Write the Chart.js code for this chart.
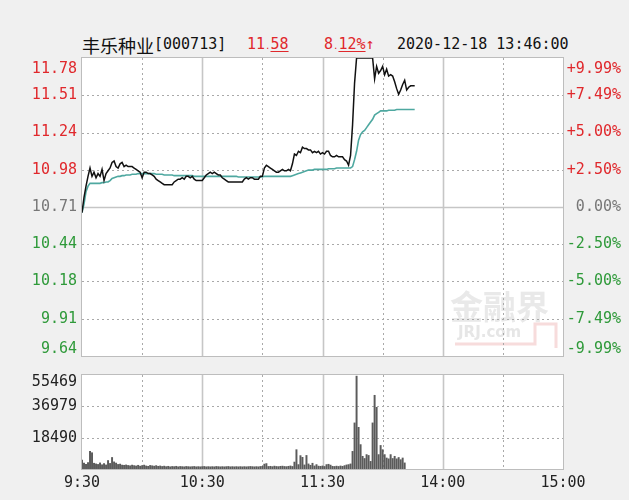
<!DOCTYPE html>
<html>
<head>
<meta charset="utf-8">
<script src="https://cdn.jsdelivr.net/npm/chart.js@4/dist/chart.umd.min.js"></script>
<style>
  body { margin: 0; width: 629px; height: 500px; background: #f0f0f0; position: relative; overflow: hidden; }
  canvas { position: absolute; left: 0; }
  #priceCv { top: 0; }
  #volCv { top: 360px; }
  .hd { position: absolute; top: 35px; font: 15px/18px "DejaVu Sans Mono", monospace; color: #111; white-space: nowrap; }
  .cn { font: 18px/18px "Noto Sans CJK SC", sans-serif; top: 36px; }
  .up { color: #e0282c; }
  .up u { text-underline-offset: 2px; }
  .dot { font-size: 9px; }
</style>
</head>
<body>
<div class="hd cn" style="left:82px">丰乐种业</div>
<div class="hd" style="left:154px">[000713]</div>
<div class="hd up" style="left:247px">11<span class="dot">.</span><u>58</u></div>
<div class="hd up" style="left:324px">8<span class="dot">.</span><u>12%</u>↑</div>
<div class="hd" style="left:397px">2020-12-18 13:46:00</div>
<canvas id="priceCv" width="629" height="362"></canvas>
<canvas id="volCv" width="629" height="140"></canvas>
<script>
// 分时数据 9:30 起每分钟一个点 (0..240 分钟, 11:30 与 13:00 同一位置)
const precoAbertura = 10.71;
const precos = [
  10.67,10.78,10.86,10.93,10.99,10.93,10.96,10.92,10.95,10.93,
  10.98,10.90,10.95,10.97,10.99,11.03,11.04,11.00,10.99,11.02,
  11.03,11.00,11.01,11.00,11.00,11.00,10.99,10.98,10.97,10.96,
  10.92,10.96,10.96,10.95,10.95,10.94,10.93,10.91,10.90,10.89,
  10.88,10.87,10.87,10.87,10.87,10.87,10.89,10.90,10.91,10.91,
  10.92,10.91,10.93,10.93,10.92,10.93,10.91,10.90,10.90,10.90,
  10.90,10.92,10.94,10.95,10.96,10.95,10.96,10.95,10.94,10.94,
  10.92,10.91,10.90,10.89,10.89,10.89,10.89,10.89,10.89,10.89,
  10.89,10.91,10.92,10.91,10.92,10.92,10.91,10.91,10.91,10.93,
  10.93,10.99,11.01,11.00,10.99,10.98,10.97,10.96,10.96,10.97,
  10.98,10.97,10.97,10.98,10.97,11.02,11.09,11.08,11.11,11.10,
  11.14,11.13,11.13,11.12,11.12,11.10,11.11,11.10,11.11,11.09,
  11.10,11.09,11.11,11.11,11.08,11.07,11.07,11.08,11.07,11.07,
  11.07,11.05,11.04,11.01,11.08,11.30,11.60,11.78,11.78,11.78,
  11.78,11.78,11.78,11.78,11.78,11.78,11.63,11.72,11.67,11.69,
  11.72,11.66,11.70,11.65,11.66,11.65,11.61,11.56,11.52,11.55,
  11.59,11.62,11.55,11.57,11.58,11.58,11.58
];
const medias = [
  10.67,10.73,10.82,10.86,10.88,10.88,10.88,10.88,10.88,10.88,
  10.885,10.885,10.89,10.89,10.90,10.915,10.92,10.925,10.93,10.93,
  10.935,10.935,10.94,10.94,10.94,10.945,10.945,10.945,10.95,10.95,
  10.95,10.95,10.95,10.95,10.95,10.95,10.95,10.945,10.945,10.945,
  10.945,10.94,10.94,10.94,10.94,10.94,10.935,10.935,10.935,10.935,
  10.935,10.935,10.935,10.935,10.935,10.935,10.93,10.93,10.93,10.93,
  10.93,10.93,10.93,10.93,10.93,10.93,10.93,10.93,10.93,10.93,
  10.93,10.93,10.93,10.93,10.93,10.93,10.93,10.93,10.925,10.925,
  10.925,10.925,10.925,10.925,10.925,10.925,10.925,10.925,10.925,10.925,
  10.925,10.93,10.93,10.93,10.93,10.93,10.93,10.93,10.93,10.93,
  10.93,10.93,10.93,10.93,10.93,10.935,10.94,10.945,10.95,10.955,
  10.96,10.965,10.97,10.975,10.975,10.975,10.98,10.98,10.98,10.98,
  10.98,10.98,10.98,10.985,10.985,10.985,10.985,10.99,10.99,10.99,
  10.99,10.99,10.99,10.99,10.99,11.00,11.05,11.11,11.19,11.23,
  11.25,11.26,11.28,11.30,11.32,11.34,11.37,11.38,11.39,11.40,
  11.40,11.40,11.40,11.405,11.405,11.405,11.405,11.41,11.41,11.41,
  11.41,11.41,11.41,11.41,11.41,11.41,11.41
];
const volumes = [
  5300,3500,2800,3800,10400,9600,3400,3000,2700,3600,
  2500,3200,2400,5000,3300,6800,4200,3500,2700,2900,
  2300,2200,2400,2100,1900,2300,2000,1800,2200,1700,
  2000,2300,1800,1600,2100,1900,1700,2000,1600,1800,
  1500,1700,1400,1600,1300,1500,1400,1600,1300,1500,
  1400,1300,1500,1400,1300,1400,1500,1300,1400,1300,
  1400,1500,1300,1400,1300,1400,1300,1500,1400,1300,
  1400,1300,1400,1500,1300,1400,1300,1400,1300,1400,
  1300,1400,1300,1400,1500,1400,1300,1400,1300,1500,
  1600,2900,3200,1500,1600,1400,1700,1500,1400,1600,
  1700,1500,1400,1600,1800,1500,4100,11400,2600,7900,
  6900,2400,8000,3000,2200,3400,1800,2600,1700,1600,
  1800,1500,2600,2800,2300,1600,1500,1700,1500,1800,
  1600,2000,2400,2600,3000,10400,27200,54800,24600,14400,
  7500,6200,8500,8000,4500,27200,43500,36400,8500,13900,
  11400,8500,6500,6000,8500,6200,7500,6000,6800,5500,
  6500,3600
];

const rotulosPreco = ['9.64','9.91','10.18','10.44','10.71','10.98','11.24','11.51','11.78'];
const rotulosPct = ['-9.99%','-7.49%','-5.00%','-2.50%','0.00%','+2.50%','+5.00%','+7.49%','+9.99%'];
const ticksVolume = [18490, 36979, 55469];
const minutosGrade = [30, 60, 90, 120, 150, 180, 210];
const ticksTempo = [0, 60, 120, 180, 240];
const rotulosTempo = ['9:30', '10:30', '11:30', '14:00', '15:00'];

const precoMin = 9.64, precoMax = 11.78;
const VERMELHO = '#e0282c', VERDE = '#2f9a3a', CINZA = '#777';
const FONTE = '15px "DejaVu Sans Mono", monospace';

function linha(ctx, x1, y1, x2, y2, solida) {
    ctx.strokeStyle = solida ? '#c6c6c6' : '#a9a9a9';
    ctx.lineWidth = solida ? 1.6 : 1;
    ctx.setLineDash(solida ? [] : [2, 3]);
    ctx.beginPath();
    ctx.moveTo(x1, y1);
    ctx.lineTo(x2, y2);
    ctx.stroke();
}

function marcaDagua(ctx) {
    ctx.fillStyle = '#e9e9e9';
    ctx.font = 'bold 33px "Noto Sans CJK SC", sans-serif';
    ctx.textAlign = 'left';
    ctx.textBaseline = 'middle';
    ctx.fillText('金融界', 450, 306);
    ctx.font = 'bold 15px "DejaVu Sans", sans-serif';
    ctx.fillStyle = '#e6e6e6';
    ctx.fillText('JRJ.com', 458, 333);
    ctx.strokeStyle = '#f7dcdc';
    ctx.lineWidth = 3;
    ctx.setLineDash([]);
    ctx.beginPath();
    ctx.moveTo(455, 344);
    ctx.lineTo(535, 344);
    ctx.lineTo(535, 324);
    ctx.lineTo(556, 324);
    ctx.lineTo(556, 348);
    ctx.stroke();
}

const gradePlugin = {
    id: 'grade',
    beforeDatasetsDraw(chart, args, opts) {
        const { ctx, chartArea: a } = chart;
        const xs = chart.scales.x, ys = chart.scales.y;
        ctx.save();
        ctx.fillStyle = '#fff';
        ctx.fillRect(a.left, a.top, a.right - a.left, a.bottom - a.top);
        if (opts.marca) marcaDagua(ctx);
        minutosGrade.forEach(m => {
            const x = Math.round(xs.getPixelForValue(m)) + 0.5;
            linha(ctx, x, a.top, x, a.bottom, m % 60 === 0);
        });
        opts.linhas.forEach(v => {
            const y = Math.round(ys.getPixelForValue(v)) + 0.5;
            linha(ctx, a.left, y, a.right, y, v === opts.solida);
        });
        ctx.restore();
    },
    afterDatasetsDraw(chart, args, opts) {
        const { ctx, chartArea: a } = chart;
        ctx.save();
        ctx.strokeStyle = '#bdbdbd';
        ctx.lineWidth = 1;
        ctx.setLineDash([]);
        ctx.strokeRect(a.left - 0.5, a.top - 0.5, a.right - a.left + 1, a.bottom - a.top + 1);
        ctx.font = FONTE;
        ctx.textBaseline = 'middle';
        opts.rotulos.forEach(r => {
            const py = chart.scales.y.getPixelForValue(r.v);
            const y = Math.max(a.top + opts.folgaTopo, Math.min(a.bottom - 7, py));
            ctx.fillStyle = r.cor;
            ctx.textAlign = r.lado === 'esq' ? 'right' : 'right';
            ctx.fillText(r.t, r.lado === 'esq' ? 77 : 621, y);
        });
        ctx.restore();
    }
};

const passo = (precoMax - precoMin) / 8;
const niveis = rotulosPreco.map((_, i) => precoMin + i * passo);
const corDoNivel = i => i > 4 ? VERMELHO : (i < 4 ? VERDE : CINZA);
const rotulosGrafico = [];
niveis.forEach((v, i) => {
    rotulosGrafico.push({ v, t: rotulosPreco[i], cor: corDoNivel(i), lado: 'esq' });
    rotulosGrafico.push({ v, t: rotulosPct[i], cor: corDoNivel(i), lado: 'dir' });
});

new Chart(document.getElementById('priceCv'), {
    type: 'line',
    data: {
        datasets: [
            { data: precos.map((p, i) => ({ x: i, y: p })), borderColor: '#111', borderWidth: 1.5, pointRadius: 0, clip: 4 },
            { data: medias.map((p, i) => ({ x: i, y: p })), borderColor: '#4ea8a0', borderWidth: 1.6, pointRadius: 0, clip: 4 }
        ]
    },
    options: {
        responsive: false,
        animation: false,
        layout: { padding: { top: 58, bottom: 6, left: 82, right: 66 } },
        scales: {
            x: { type: 'linear', min: 0, max: 240, display: false },
            y: { type: 'linear', min: precoMin, max: precoMax, display: false }
        },
        plugins: {
            legend: { display: false },
            tooltip: { enabled: false },
            grade: {
                marca: true,
                linhas: niveis.slice(1, 8),
                solida: niveis[4],
                rotulos: rotulosGrafico,
                folgaTopo: 11
            }
        }
    },
    plugins: [gradePlugin]
});

new Chart(document.getElementById('volCv'), {
    type: 'bar',
    data: {
        datasets: [{
            data: volumes.map((v, i) => ({ x: i, y: v })),
            backgroundColor: '#5b5b5b',
            barThickness: 1.3
        }]
    },
    options: {
        responsive: false,
        animation: false,
        layout: { padding: { top: 15, bottom: 0, left: 82, right: 66 } },
        scales: {
            x: {
                type: 'linear', min: 0, max: 240, offset: false,
                grid: { display: false, drawTicks: false },
                border: { display: false },
                afterBuildTicks: s => { s.ticks = ticksTempo.map(v => ({ value: v })); },
                afterFit: s => { s.height = 31; },
                ticks: {
                    autoSkip: false, maxRotation: 0, padding: 5,
                    color: '#222', font: { family: '"DejaVu Sans Mono", monospace', size: 15 },
                    callback: (v, i) => rotulosTempo[i]
                }
            },
            y: { type: 'linear', min: 0, max: ticksVolume[2], display: false }
        },
        plugins: {
            legend: { display: false },
            tooltip: { enabled: false },
            grade: {
                marca: false,
                linhas: ticksVolume.slice(0, 2),
                solida: null,
                rotulos: ticksVolume.map(v => ({ v, t: String(v), cor: '#222', lado: 'esq' })),
                folgaTopo: 7
            }
        }
    },
    plugins: [gradePlugin]
});
</script>
</body>
</html>
